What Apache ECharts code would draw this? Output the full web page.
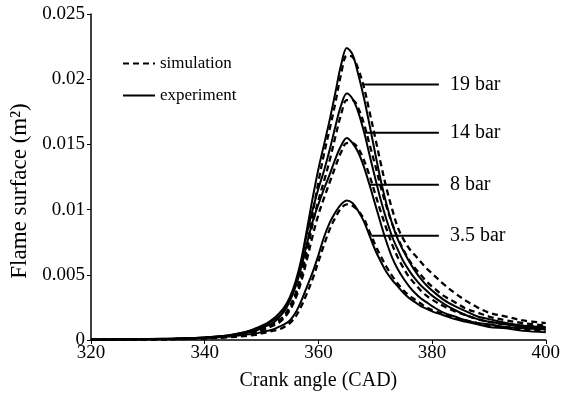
<!DOCTYPE html>
<html>
<head>
<meta charset="utf-8">
<script src="https://cdn.jsdelivr.net/npm/echarts@6/dist/echarts.min.js"></script>
<style>html,body{margin:0;padding:0;background:#fff}#c{width:563px;height:401px}</style>
</head>
<body>
<div id="c"></div>
<script>
const cad = [320,325,330,335,340,344,347,349,350,351,352,353,354,355,356,357,358,359,360,361,362,363,364,365,366,367,368,369,370,371,372,373,374,375,376,377,378,379,380,382,384,386,388,390,393,396,400];

const exp19 = [0.00004,0.00005,0.00007,0.00012,0.0002,0.00035,0.0006,0.0009,
 0.0011,0.0013,0.0016,0.0020,0.0025,0.0033,0.0045,0.0062,0.0085,0.0109,0.0131,0.0150,0.0169,0.0190,0.0211,0.0224,0.0219,0.0204,0.0186,0.0165,0.0143,0.0122,0.0104,0.0089,0.0077,0.0068,0.0060,0.0053,0.0047,0.0042,0.0038,
 0.0031,0.0026,0.0022,0.0018,0.0016,0.0013,0.0011,0.0010];
const sim19 = [0.00002,0.00003,0.00005,0.00008,0.00015,0.0003,0.0005,0.0007,
 0.0008,0.0010,0.0012,0.0015,0.0019,0.0026,0.0036,0.0051,0.0072,0.0097,0.0121,0.0143,0.0162,0.0182,0.0204,0.0218,0.0217,0.0208,0.0194,0.0175,0.0155,0.0135,0.0116,0.0100,0.0086,0.0077,0.0070,0.0065,0.0060,0.0055,0.0051,
 0.0043,0.0036,0.0030,0.0025,0.0021,0.0018,0.0015,0.0013];
const exp14 = [0.00004,0.00005,0.00007,0.00011,0.0002,0.00034,0.0006,0.0008,
 0.0010,0.0012,0.0015,0.0018,0.0023,0.0031,0.0043,0.0060,0.0082,0.0100,0.0116,0.0130,0.0146,0.0164,0.0180,0.0189,0.0185,0.0175,0.0160,0.0142,0.0124,0.0107,0.0092,0.0079,0.0069,0.0060,0.0053,0.0047,0.0042,0.0038,0.0034,
 0.0028,0.0023,0.0019,0.0016,0.0014,0.0012,0.0010,0.0009];
const sim14 = [0.00002,0.00003,0.00005,0.00008,0.00015,0.0003,0.0005,0.0007,
 0.0008,0.0010,0.0012,0.0014,0.0018,0.0024,0.0034,0.0048,0.0068,0.0089,0.0107,0.0122,0.0138,0.0156,0.0173,0.0184,0.0184,0.0178,0.0166,0.0150,0.0134,0.0117,0.0102,0.0089,0.0078,0.0069,0.0061,0.0055,0.0050,0.0045,0.0041,
 0.0034,0.0029,0.0024,0.0021,0.0018,0.0015,0.0013,0.0011];
const exp8 = [0.00004,0.00005,0.00007,0.0001,0.00018,0.0003,0.0005,0.0007,
 0.0009,0.0011,0.0013,0.0017,0.0022,0.0030,0.0041,0.0056,0.0074,0.0091,0.0104,0.0116,0.0127,0.0139,0.0149,0.0155,0.0151,0.0144,0.0133,0.0119,0.0104,0.0089,0.0075,0.0063,0.0054,0.0047,0.0041,0.0036,0.0032,0.0029,0.0026,
 0.0021,0.0018,0.0015,0.0013,0.0012,0.0010,0.0009,0.0008];
const sim8 = [0.00002,0.00003,0.00005,0.00008,0.00013,0.00025,0.0004,0.0006,
 0.0007,0.0009,0.0011,0.0013,0.0017,0.0023,0.0032,0.0045,0.0062,0.0080,0.0096,0.0109,0.0121,0.0133,0.0144,0.0151,0.0151,0.0147,0.0138,0.0126,0.0112,0.0098,0.0085,0.0073,0.0063,0.0055,0.0048,0.0043,0.0038,0.0034,0.0031,
 0.0026,0.0022,0.0019,0.0016,0.0014,0.0012,0.0011,0.0010];
const exp35 = [0.00003,0.00004,0.00006,0.00009,0.00015,0.00025,0.0004,0.0005,
 0.0006,0.0007,0.0008,0.0010,0.0012,0.0015,0.0021,0.0030,0.0041,0.0052,0.0065,0.0079,0.0090,0.0098,0.0104,0.0107,0.0105,0.0099,0.0091,0.0080,0.0069,0.0060,0.0052,0.0046,0.0041,0.0036,0.0032,0.0029,0.0026,0.0024,0.0022,
 0.0019,0.0016,0.0014,0.0012,0.0010,0.0009,0.0007,0.0006];
const sim35 = [0.00002,0.00003,0.00004,0.00007,0.00012,0.0002,0.0003,0.0004,
 0.0005,0.0006,0.0007,0.0008,0.0010,0.0013,0.0018,0.0026,0.0036,0.0047,0.0060,0.0073,0.0085,0.0094,0.0101,0.0104,0.0103,0.0099,0.0093,0.0083,0.0073,0.0064,0.0056,0.0049,0.0043,0.0038,0.0034,0.0031,0.0028,0.0025,0.0023,
 0.0020,0.0017,0.0015,0.0013,0.0011,0.0010,0.0008,0.0007];

const labelNames = ['19 bar','14 bar','8 bar','3.5 bar'];
const labelY = [0.0196,0.0159,0.0119,0.0080];
const labelX0 = [367.9,368.2,368.9,369.3];
const labelX1 = [381.2,381.2,381.2,381.2];

const xTicks = {min:320, max:400, interval:20};
const yTicks = {min:0, max:0.025, interval:0.005};

const FONT = "'Liberation Serif','Times New Roman',serif";
const zip = v => cad.map((x,i)=>[x,v[i]]);

const series = [];
const sims = [sim19, sim14, sim8, sim35];
const exps = [exp19, exp14, exp8, exp35];
sims.forEach(s => series.push({
  name:'simulation', type:'line', data:zip(s), symbol:'none', smooth:0.35,
  lineStyle:{color:'#000', width:2.3, type:[6,4]}, itemStyle:{color:'#000'}, z:3
}));
exps.forEach(s => series.push({
  name:'experiment', type:'line', data:zip(s), symbol:'none', smooth:0.35,
  lineStyle:{color:'#000', width:2}, itemStyle:{color:'#000'}, z:4
}));
labelNames.forEach((n,i) => series.push({
  name:n, type:'line', data:[[labelX0[i],labelY[i]],[labelX1[i],labelY[i]]], symbol:'none',
  lineStyle:{color:'#000', width:2}, silent:true,
  endLabel:{show:true, formatter:n, distance:11, color:'#000', fontFamily:FONT, fontSize:20}
}));

const chart = echarts.init(document.getElementById('c'), null, {renderer:'canvas'});
chart.setOption({
  animation:false,
  backgroundColor:'#fff',
  grid:{left:91, right:16, top:14, bottom:61, containLabel:false},
  legend:{
    data:['simulation','experiment'], orient:'vertical', left:122, top:55, padding:0,
    itemWidth:32, itemHeight:12, itemGap:15,
    itemStyle:{color:'rgba(0,0,0,0)', borderColor:'rgba(0,0,0,0)', borderWidth:0, opacity:0},
    textStyle:{fontFamily:FONT, fontSize:17, color:'#000'}
  },
  xAxis:{
    type:'value', min:xTicks.min, max:xTicks.max, interval:xTicks.interval,
    name:'Crank angle (CAD)', nameLocation:'middle', nameGap:31,
    nameTextStyle:{fontFamily:FONT, fontSize:20, color:'#000'},
    axisLine:{lineStyle:{color:'#000', width:1.5}},
    axisTick:{lineStyle:{color:'#000'}, length:4},
    axisLabel:{fontFamily:FONT, fontSize:19, color:'#000', margin:4},
    splitLine:{show:false}
  },
  yAxis:{
    type:'value', min:yTicks.min, max:yTicks.max, interval:yTicks.interval,
    name:'Flame surface (m²)', nameLocation:'middle', nameGap:60,
    nameTextStyle:{fontFamily:FONT, fontSize:23, color:'#000', padding:[0,28,0,0]},
    axisLine:{show:true, lineStyle:{color:'#000', width:1.5}},
    axisTick:{show:true, lineStyle:{color:'#000'}, length:4},
    axisLabel:{fontFamily:FONT, fontSize:19, color:'#000', margin:6},
    splitLine:{show:false}
  },
  series:series
});
</script>
</body>
</html>
